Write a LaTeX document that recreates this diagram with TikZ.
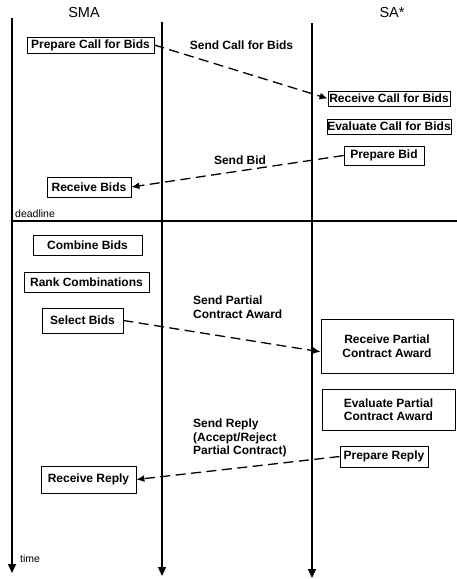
\documentclass[tikz,border=0pt]{standalone}
\usepackage{fontspec}
\setmainfont{Liberation Sans}
\usetikzlibrary{arrows.meta}

\begin{document}
\begin{tikzpicture}[x=1pt, y=-1pt,
    task/.style={draw, line width=0.8pt, inner sep=0pt, align=center,
        font=\fontsize{12}{13.5}\selectfont\bfseries},
    msglabel/.style={inner sep=0pt, align=left,
        font=\fontsize{12}{13.5}\selectfont\bfseries},
    agent/.style={inner sep=0pt, font=\fontsize{14.5}{16}\selectfont},
    note/.style={inner sep=0pt, anchor=west, font=\fontsize{10.5}{12}\selectfont},
    lifeline/.style={line width=1.3pt, -{Triangle[length=9pt,width=8pt]}},
    message/.style={line width=1.3pt, dash pattern=on 10pt off 5.5pt,
        -{Latex[length=8pt,width=7pt]}}]
    \useasboundingbox (0,0) rectangle (457,579);

    % time lines
    \draw[lifeline] (12,18)--(12,573);
    \draw[lifeline] (162,22)--(162,576);
    \draw[lifeline] (312,23)--(312,578);
    \draw[line width=1.3pt] (12,221)--(457,221);

    \node[agent] (sma) at (84,13) {SMA};
    \node[agent] (sa) at (392,13) {SA*};
    \node[note] (deadline) at (15,214) {deadline};
    \node[note] (time) at (20,559) {time};

    % SMA side
    \node[task, minimum width=127pt, minimum height=16pt] (prepCfb) at (90.5,45) {Prepare Call for Bids};
    \node[task, minimum width=84pt, minimum height=20pt] (recvBids) at (89,187) {Receive Bids};
    \node[task, minimum width=109pt, minimum height=20pt] (combBids) at (87.5,245) {Combine Bids};
    \node[task, minimum width=125pt, minimum height=20pt] (rankComb) at (86.5,282) {Rank Combinations};
    \node[task, minimum width=81pt, minimum height=25pt] (selBids) at (82.5,320.5) {Select Bids};
    \node[task, minimum width=95pt, minimum height=27pt] (recvReply) at (88.5,479.5) {Receive Reply};

    % SA side
    \node[task, minimum width=122pt, minimum height=15pt] (recvCfb) at (389,98.5) {Receive Call for Bids};
    \node[task, minimum width=124pt, minimum height=15pt] (evalCfb) at (389,126.5) {Evaluate Call for Bids};
    \node[task, minimum width=80pt, minimum height=19pt] (prepBid) at (384,155.5) {Prepare Bid};
    \node[task, minimum width=132pt, minimum height=54pt] (recvPca) at (387,346) {Receive Partial\\Contract Award};
    \node[task, minimum width=133pt, minimum height=41pt] (evalPca) at (388.5,409.5) {Evaluate Partial\\Contract Award};
    \node[task, minimum width=88pt, minimum height=21pt] (prepReply) at (384,456.5) {Prepare Reply};

    % messages
    \draw[message] (prepCfb.east)--(recvCfb.west);
    \node[msglabel] (sendCfb) at (241.5,45) {Send Call for Bids};
    \draw[message] (prepBid.west)--(recvBids.east);
    \node[msglabel] (sendBid) at (240,160) {Send Bid};
    \draw[message] (selBids.east)--(recvPca.185);
    \node[msglabel, anchor=north west] (sendPca) at (193,296) {Send Partial\\Contract Award};
    \draw[message] (prepReply.west)--(recvReply.east);
    \node[msglabel, anchor=north west] (sendReply) at (193,419) {Send Reply\\(Accept/Reject\\Partial Contract)};
\end{tikzpicture}
\end{document}
